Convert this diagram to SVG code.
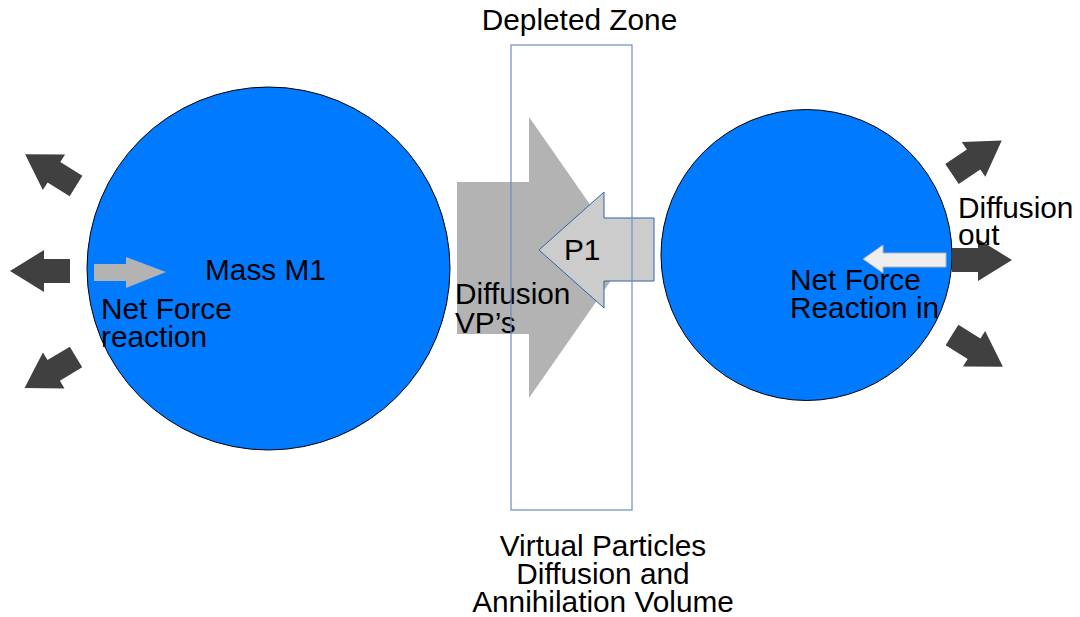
<svg xmlns="http://www.w3.org/2000/svg" width="1080" height="617" viewBox="0 0 1080 617">
  <style>
    text { font-family: "Liberation Sans", Arial, sans-serif; font-size: 29.8px; fill: #000000; }
    .mass { fill: #007aff; stroke: #000000; stroke-width: 1; }
    .dark { fill: #404040; }
    .mid { text-anchor: middle; }
  </style>
  <defs>
    <path id="darkArrow" d="M0,-12 H26 V-21 L60,0 L26,21 V12 H0 Z"/>
  </defs>
  <rect width="1080" height="617" fill="#ffffff"/>

  <g id="mass-m1">
    <circle class="mass" cx="268.5" cy="268.5" r="181.5"/>
    <text x="205" y="280">Mass M1</text>
  </g>

  <g id="mass-m2">
    <circle class="mass" cx="806.5" cy="255" r="145.5"/>
  </g>

  <g id="connectors">
    <use href="#darkArrow" class="dark" transform="translate(76,186) rotate(-148)"/>
    <use href="#darkArrow" class="dark" transform="translate(70,271) rotate(180)"/>
    <use href="#darkArrow" class="dark" transform="translate(76,357) rotate(149)"/>
    <use href="#darkArrow" class="dark" transform="translate(952,174) rotate(-34)"/>
    <use href="#darkArrow" class="dark" transform="translate(952,260)"/>
    <use href="#darkArrow" class="dark" transform="translate(952,335) rotate(32)"/>
    <polygon points="94,264 126,264 126,257 166,272 126,288 126,281 94,281" fill="#b3b3b3"/>
    <polygon points="946,253 883,253 883,245 863,259 883,273 883,267 946,267" fill="#eeeeee" stroke="#b3b3b3" stroke-width="1"/>
  </g>

  <g id="diffusion-vps">
    <polygon points="457,182 529,182 529,117 627,257.5 529,398 529,334 457,334" fill="#b3b3b3"/>
    <text x="455" y="304">Diffusion</text>
    <text x="455" y="333">VP’s</text>
  </g>

  <g id="p1">
    <polygon points="654,218 604,218 604,192 539,250 604,308 604,281 654,281" fill="#cccccc" stroke="#3465a4" stroke-width="1"/>
    <text x="564" y="260">P1</text>
  </g>

  <g id="depleted-zone">
    <rect x="511" y="45" width="121" height="465" fill="none" stroke="#6b8cc0" stroke-width="1.2"/>
    <text class="mid" x="579.5" y="30">Depleted Zone</text>
  </g>

  <g id="label-net-force-left">
    <text x="101" y="319">Net Force</text>
    <text x="101" y="347">reaction</text>
  </g>

  <g id="label-net-force-right">
    <text x="790" y="290">Net Force</text>
    <text x="790" y="318">Reaction in</text>
  </g>

  <g id="label-diffusion-out">
    <text x="958" y="218">Diffusion</text>
    <text x="958" y="245">out</text>
  </g>

  <g id="label-volume">
    <text class="mid" x="603" y="556">Virtual Particles</text>
    <text class="mid" x="603" y="584">Diffusion and</text>
    <text class="mid" x="603" y="612">Annihilation Volume</text>
  </g>
</svg>
